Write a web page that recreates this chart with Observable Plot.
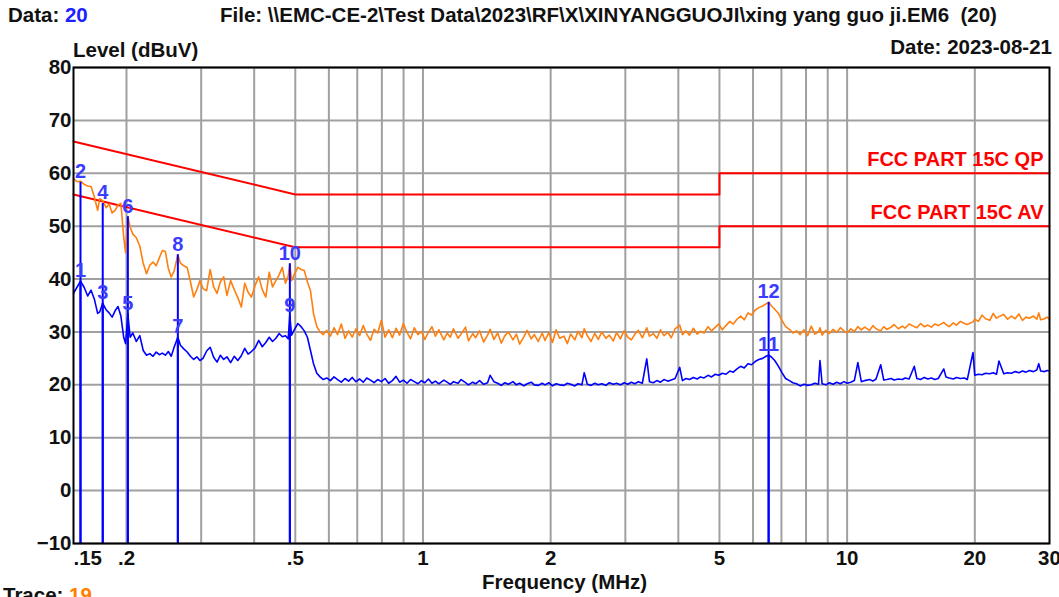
<!DOCTYPE html>
<html>
<head>
<meta charset="utf-8">
<script src="https://cdn.jsdelivr.net/npm/d3@7"></script>
<script src="https://cdn.jsdelivr.net/npm/@observablehq/plot@0.6"></script>
<style>
  html, body { margin: 0; padding: 0; background: #fff; }
  #wrap { position: relative; width: 1059px; height: 597px; overflow: hidden;
          font-family: "Liberation Sans", Arial, sans-serif; font-weight: bold; color: #111; }
  #wrap svg { position: absolute; left: 0; top: 0; }
  .t { position: absolute; white-space: pre; line-height: 20px; font-size: 20.5px; z-index: 2; }
</style>
</head>
<body>
<div id="wrap">
  <div class="t" style="left:8px;top:5px;">Data: <span style="color:#2020ff">20</span></div>
  <div class="t" style="left:220px;top:5px;">File: \\EMC-CE-2\Test Data\2023\RF\X\XINYANGGUOJI\xing yang guo ji.EM6  (20)</div>
  <div class="t" style="left:73px;top:40px;">Level (dBuV)</div>
  <div class="t" style="right:7px;top:37px;">Date: 2023-08-21</div>
  <div class="t" style="left:482px;top:572px;">Frequency (MHz)</div>
  <div class="t" style="left:3px;top:585px;">Trace: <span style="color:#ff8000">19</span></div>
</div>
<script>
// ---- data ----
const freqMHz = [
  0.150, 0.153, 0.1558, 0.159, 0.162, 0.165, 0.168, 0.171, 0.173, 0.1758,
  0.179, 0.182, 0.185, 0.188, 0.191, 0.194, 0.197, 0.199, 0.2015, 0.204,
  0.207, 0.211, 0.215, 0.219, 0.223, 0.227, 0.231, 0.235, 0.239, 0.243,
  0.247, 0.251, 0.255, 0.259, 0.2643, 0.268, 0.273, 0.278, 0.283, 0.288,
  0.293, 0.298, 0.303, 0.309, 0.315, 0.321, 0.327, 0.333, 0.339, 0.345,
  0.352, 0.359, 0.366, 0.373, 0.380, 0.387, 0.394, 0.402, 0.410, 0.418,
  0.426, 0.434, 0.442, 0.450, 0.458, 0.466, 0.474, 0.481, 0.4855, 0.490,
  0.498, 0.507, 0.516, 0.525, 0.534, 0.543, 0.552, 0.562, 0.572, 0.582,
  0.593, 0.605, 0.617, 0.629, 0.642, 0.655, 0.668, 0.681, 0.695, 0.709,
  0.723, 0.737, 0.752, 0.767, 0.782, 0.798, 0.814, 0.830, 0.847, 0.864,
  0.881, 0.899, 0.917, 0.935, 0.954, 0.973, 0.992, 1.01, 1.03, 1.05,
  1.07, 1.09, 1.12, 1.14, 1.16, 1.18, 1.21, 1.23, 1.26, 1.28,
  1.31, 1.33, 1.36, 1.39, 1.42, 1.44, 1.47, 1.50, 1.53, 1.56,
  1.59, 1.63, 1.66, 1.69, 1.73, 1.76, 1.80, 1.83, 1.87, 1.91,
  1.94, 1.98, 2.02, 2.06, 2.10, 2.15, 2.19, 2.23, 2.28, 2.32,
  2.37, 2.40, 2.44, 2.49, 2.54, 2.59, 2.64, 2.70, 2.75, 2.81,
  2.86, 2.92, 2.98, 3.04, 3.10, 3.16, 3.22, 3.29, 3.37, 3.42,
  3.49, 3.56, 3.63, 3.70, 3.78, 3.85, 3.93, 4.03, 4.09, 4.17,
  4.25, 4.34, 4.43, 4.51, 4.60, 4.70, 4.79, 4.89, 4.98, 5.08,
  5.18, 5.29, 5.39, 5.50, 5.61, 5.72, 5.84, 5.95, 6.07, 6.19,
  6.32, 6.44, 6.53, 6.62, 6.75, 6.89, 7.02, 7.16, 7.31, 7.45,
  7.60, 7.75, 7.91, 8.07, 8.23, 8.39, 8.56, 8.63, 8.73, 8.91,
  9.08, 9.27, 9.45, 9.64, 9.83, 10.0, 10.2, 10.4, 10.6, 10.8,
  11.0, 11.3, 11.5, 11.7, 12.0, 12.2, 12.4, 12.7, 12.9, 13.2,
  13.5, 13.7, 14.0, 14.4, 14.6, 14.9, 15.2, 15.5, 15.8, 16.1,
  16.4, 16.9, 17.1, 17.4, 17.8, 18.1, 18.5, 18.9, 19.2, 19.8,
  20.0, 20.4, 20.8, 21.2, 21.7, 22.1, 22.5, 22.8, 23.4, 23.9,
  24.4, 24.9, 25.4, 25.9, 26.4, 26.9, 27.5, 28.0, 28.3, 28.6,
  29.2, 29.6, 30.0
];
// orange trace (peak / QP scan), dBuV
const peakLevel = [
  59.0, 58.4, 58.5, 57.9, 57.6, 57.5, 55.5, 53.0, 55.2, 54.8,
  53.5, 54.2, 52.5, 53.0, 54.0, 54.3, 48.0, 45.0, 51.8, 49.8,
  48.5, 47.8, 46.2, 43.0, 41.0, 42.6, 43.2, 42.5, 44.0, 45.4,
  45.2, 42.0, 40.4, 41.5, 44.6, 43.0, 42.5, 42.2, 39.5, 36.6,
  38.0, 39.7, 38.2, 37.8, 41.8, 38.5, 37.3, 39.5, 40.4, 36.9,
  39.7, 38.0, 36.5, 34.7, 39.2, 37.5, 36.6, 38.8, 40.4, 38.0,
  36.6, 41.3, 38.5, 39.7, 40.8, 42.2, 39.2, 40.5, 42.9, 39.7,
  41.0, 42.2, 41.8, 41.6, 39.5, 37.8, 33.5, 31.0, 30.0, 29.5,
  30.3, 29.2, 30.8, 29.5, 31.5, 28.8, 30.2, 29.0, 30.6, 29.3,
  31.2, 29.6, 28.4, 30.5, 29.8, 32.2, 29.0, 30.4, 28.9, 30.7,
  29.4, 31.6, 29.9, 28.7, 30.8, 29.5, 30.1, 28.6, 29.9, 31.0,
  29.2, 30.4, 28.5, 29.8, 29.0, 30.6, 28.8, 29.6, 30.9, 28.3,
  29.7, 28.9, 30.2, 28.1, 29.4, 30.5, 28.6, 29.8, 27.9, 29.3,
  30.0, 28.5, 29.6, 27.7, 29.1, 30.3, 28.7, 29.5, 28.2, 29.8,
  28.4, 29.9, 28.0, 30.4, 28.8, 29.2, 27.8, 29.6, 28.5, 30.1,
  28.9, 30.6, 29.3, 28.2, 29.7, 28.6, 30.0, 28.8, 29.4, 28.3,
  29.9, 28.7, 30.2, 29.0, 28.5, 29.6, 30.3, 28.9, 30.8, 29.2,
  29.7, 28.8, 30.4, 29.3, 29.9, 28.9, 30.6, 31.3, 29.5, 30.2,
  29.4, 30.7, 29.6, 30.1, 29.8, 31.0, 30.2, 30.9, 31.5, 30.4,
  31.2, 32.0, 31.5, 32.4, 33.0, 32.3, 33.6, 33.2, 34.1, 34.6,
  34.9, 35.3, 35.6, 35.0, 34.3, 33.5, 32.2, 31.0, 30.5, 29.8,
  30.2, 29.5, 30.4, 29.3, 31.1, 29.6, 30.0, 30.8, 29.4, 30.3,
  29.7, 30.5, 29.9, 30.8, 30.2, 29.8, 30.6, 30.1, 31.0, 30.4,
  30.9, 30.3, 31.2, 30.6, 30.2, 31.0, 30.5, 30.9, 31.4, 30.6,
  31.1, 30.7, 31.5, 31.0, 30.8, 31.6, 31.0, 31.3, 30.9, 31.5,
  31.2, 31.8, 31.4, 31.0, 31.7, 31.3, 32.0, 31.6, 31.4, 31.9,
  32.4, 32.0, 33.2, 32.5, 32.2, 33.5, 32.6, 32.9, 33.3, 32.4,
  33.0, 32.5, 33.4, 32.2, 32.8, 32.6, 33.0, 32.4, 33.6, 32.3,
  32.5, 32.8, 32.4
];
// blue trace (average scan), dBuV
const avgLevel = [
  37.3, 38.5, 39.6, 38.4, 36.8, 37.9, 36.2, 33.5, 33.8, 35.4,
  34.2, 33.6, 32.8, 34.0, 34.8, 33.0, 29.0, 27.8, 33.4, 29.0,
  29.8, 28.2, 29.3, 26.5, 25.6, 25.9, 25.4, 26.2, 25.7, 26.0,
  25.6, 26.3, 25.4, 27.1, 29.0, 27.5, 26.8, 26.2, 25.4, 24.8,
  25.3, 24.6, 25.0, 26.4, 27.1, 25.2, 24.3, 25.6, 24.8, 25.3,
  24.2, 25.4, 24.6, 25.5, 26.9, 25.8, 26.3, 27.0, 28.4, 27.2,
  28.0, 29.0, 28.2, 28.8, 29.7, 29.1, 29.3, 28.7, 33.0, 29.4,
  30.5, 31.6, 31.0, 30.2, 29.0, 26.5, 24.0, 22.2, 21.5, 21.0,
  21.3, 20.8, 21.5, 21.0, 20.5, 21.2, 20.7, 21.4, 20.6, 21.1,
  20.5, 21.3, 20.9, 20.4, 21.0, 20.6, 21.2, 20.3, 20.8, 21.6,
  20.5, 20.9, 20.3, 21.0, 20.6, 20.2, 20.8, 20.4, 21.1, 20.3,
  20.7, 20.2, 20.9, 20.5, 20.1, 20.6, 20.3, 21.0, 20.4, 20.0,
  20.5, 20.2, 20.8, 20.1, 20.4, 21.8, 20.6, 20.3, 19.9, 20.4,
  20.1, 20.6, 20.0, 20.3, 19.8, 20.2, 20.5, 20.0, 19.9, 20.3,
  20.0, 20.4, 19.8, 20.2, 20.0, 19.9, 20.3, 20.1, 19.8, 20.2,
  20.0, 22.3, 20.1, 19.9, 20.3, 20.0, 20.2, 19.9, 20.4, 20.1,
  20.3, 20.0, 20.4, 20.1, 20.5, 20.2, 20.6, 20.3, 24.9, 20.6,
  20.4, 20.8, 20.5, 21.0, 20.7, 20.9, 21.2, 23.3, 20.8, 21.2,
  21.0, 21.4, 21.1, 21.5, 21.3, 21.8, 21.5, 22.0, 21.8, 22.2,
  22.0, 22.6, 22.4, 23.0, 23.5, 23.2, 24.0, 23.8, 24.4, 24.8,
  25.0, 25.4, 25.6, 25.3, 24.6, 23.5, 22.3, 21.2, 20.8, 20.4,
  20.2, 19.8, 20.1, 19.9, 20.0, 20.3, 20.1, 24.6, 20.2, 20.0,
  20.4, 20.1, 20.5, 20.2, 20.6, 20.3, 20.5, 20.8, 24.2, 20.6,
  20.8, 21.0, 20.7, 21.1, 23.8, 20.9, 21.0, 21.2, 20.9, 21.1,
  21.0, 21.3, 21.1, 23.5, 21.2, 21.0, 21.4, 21.1, 21.3, 21.0,
  21.2, 23.0, 21.5, 21.3, 21.1, 21.4, 21.2, 21.3, 21.0, 26.1,
  21.8, 22.0, 21.9, 22.2, 22.1, 22.3, 22.0, 24.5, 22.1, 22.3,
  22.2, 22.5, 22.3, 22.6, 22.4, 22.7, 22.5, 22.8, 24.0, 22.6,
  22.5, 22.7, 22.6
];
// limit lines
const limitFreq = [0.15, 0.5, 5, 5, 30];
const qpLimit   = [66, 56, 56, 60, 60];
const avLimit   = [56, 46, 46, 50, 50];
const limitNames = ["FCC PART 15C QP", "FCC PART 15C AV"];
const limitLabelLevel = [60, 50];
// markers
const markerNo    = [1, 2, 3, 4, 5, 6, 7, 8, 9, 10, 11, 12];
const markerFreq  = [0.1558, 0.1558, 0.1758, 0.1758, 0.2015, 0.2015, 0.2643, 0.2643, 0.4855, 0.4855, 6.53, 6.53];
const markerLevel = [39.6, 58.3, 35.4, 54.3, 33.4, 51.8, 29.0, 44.6, 33.0, 42.9, 25.6, 35.6];
// axes
const xTickValues = [0.15, 0.2, 0.5, 1, 2, 5, 10, 20, 30];
const xTickLabels = [".15", ".2", ".5", "1", "2", "5", "10", "20", "30"];
const xGridValues = [0.2, 0.3, 0.4, 0.5, 0.6, 0.7, 0.8, 0.9, 1, 2, 3, 4, 5, 6, 7, 8, 9, 10, 20];
const yTickValues = [80, 70, 60, 50, 40, 30, 20, 10, 0, -10];

// ---- build tables ----
const peak = freqMHz.map((f, i) => ({f, v: peakLevel[i]}));
const avg = freqMHz.map((f, i) => ({f, v: avgLevel[i]}));
const qp = limitFreq.map((f, i) => ({f, v: qpLimit[i]}));
const av = limitFreq.map((f, i) => ({f, v: avLimit[i]}));
const markers = markerNo.map((n, i) => ({n, f: markerFreq[i], v: markerLevel[i]}));
const limitLabels = limitNames.map((t, i) => ({t, v: limitLabelLevel[i]}));
const xTickMain = xTickValues.slice(1);

const chart = Plot.plot({
  width: 1059, height: 597,
  marginLeft: 73, marginRight: 10, marginTop: 67, marginBottom: 54,
  x: {type: "log", domain: [0.15, 30]},
  y: {domain: [-10, 80]},
  style: {fontFamily: "'Liberation Sans', Arial, sans-serif", background: "transparent", color: "#111"},
  marks: [
    Plot.gridX(xGridValues, {stroke: "#a0a0a0", strokeOpacity: 1, strokeWidth: 2}),
    Plot.gridY(yTickValues, {stroke: "#a0a0a0", strokeOpacity: 1, strokeWidth: 2}),
    Plot.line(qp, {x: "f", y: "v", stroke: "#ff0000", strokeWidth: 2}),
    Plot.line(av, {x: "f", y: "v", stroke: "#ff0000", strokeWidth: 2}),
    Plot.line(peak, {x: "f", y: "v", stroke: "#ff7f0e", strokeWidth: 1.6}),
    Plot.line(avg, {x: "f", y: "v", stroke: "#0000ff", strokeWidth: 1.6}),
    Plot.ruleX(markers, {x: "f", y1: -10, y2: "v", stroke: "#0000ff", strokeWidth: 2}),
    Plot.text(markers, {x: "f", y: "v", text: "n", dy: -4, lineAnchor: "bottom",
      fill: "#3c3cff", fontSize: 20}),
    Plot.text(limitLabels, {x: 30, y: "v", text: "t", textAnchor: "end", lineAnchor: "bottom",
      dx: -6, dy: -7, fill: "#ff0000", fontSize: 20, fontWeight: "bold"}),
    Plot.frame({stroke: "#000", strokeWidth: 2}),
    Plot.axisY(yTickValues, {tickSize: 0, tickPadding: 2, fontSize: 20.5, fontWeight: "bold", label: null, fill: "#111"}),
    Plot.axisX(xTickMain, {tickSize: 0, tickPadding: 7, fontSize: 20.5, fontWeight: "bold", label: null, fill: "#111",
      tickFormat: d => xTickLabels[xTickValues.indexOf(d)]}),
    Plot.text([xTickValues[0]], {x: d => d, frameAnchor: "bottom", dy: 7, lineAnchor: "top", textAnchor: "start",
      text: () => xTickLabels[0], fontSize: 20.5, fontWeight: "bold", fill: "#111"})
  ]
});
document.getElementById("wrap").prepend(chart);
</script>
</body>
</html>
